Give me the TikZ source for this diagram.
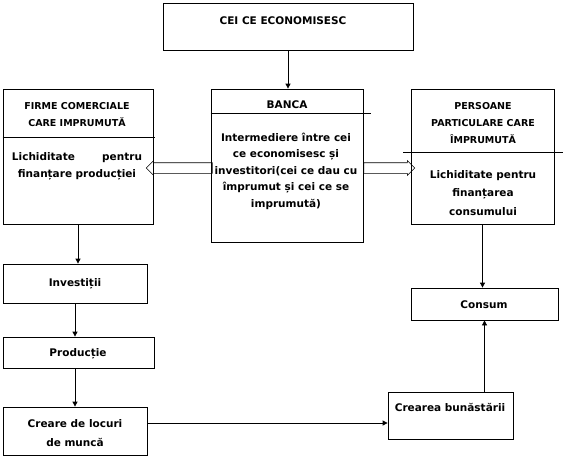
\documentclass[tikz,border=0pt]{standalone}
\usepackage{fontspec}
\setmainfont{DejaVu Sans}
\usetikzlibrary{arrows.meta,positioning,shapes.arrows}

\begin{document}
\begin{tikzpicture}[
    x=1pt, y=-1pt,
    box/.style={rectangle, draw, line width=0.8pt, inner sep=0pt},
    txt/.style={align=center, inner sep=0pt, font=\bfseries\fontsize{10.5}{16.5}\selectfont},
    arrow/.style={-{Triangle[length=5pt,width=5pt]}, line width=0.8pt},
    wide/.style={single arrow, draw, line width=0.6pt, inner xsep=0pt, inner ysep=5pt, minimum width=0pt, single arrow head extend=2pt}
]
\useasboundingbox (0,0) rectangle (564,459);

% boxes
\node[box, minimum width=250pt, minimum height=47pt] (econ) at (288,26.5) {};
\node[box, minimum width=152pt, minimum height=153pt] (banca) at (287,165.5) {};
\node[box, minimum width=150pt, minimum height=135pt] (firme) at (78,156.5) {};
\node[box, minimum width=143pt, minimum height=135pt] (pers) at (482.5,156.5) {};
\node[box, minimum width=144pt, minimum height=39pt] (invest) at (75,283.5) {};
\node[box, minimum width=151pt, minimum height=31pt] (prod) at (78.5,352.5) {};
\node[box, minimum width=144pt, minimum height=48pt] (creare) at (75,431) {};
\node[box, minimum width=125pt, minimum height=47pt] (bunast) at (450.5,415.5) {};
\node[box, minimum width=147pt, minimum height=32pt] (consum) at (484.5,304) {};

% dividers
\draw[line width=0.8pt] (banca.west |- 0,113) -- (371,113);
\draw[line width=0.8pt] (firme.west |- 0,137) -- (155,137);
\draw[line width=0.8pt] (403,152) -- (563,152);

% texts
\node[txt] (econtxt) at (283,21) {CEI CE ECONOMISESC};
\node[txt] (bancatxt) at (287,105) {BANCA};
\node[txt] (bancabody) at (286,171) {Intermediere între cei\\ce economisesc și\\investitori(cei ce dau cu\\împrumut și cei ce se\\imprumută)};
\node[txt, font=\bfseries\fontsize{9.5}{16.5}\selectfont] (firmetxt) at (77,114.5) {FIRME COMERCIALE\\CARE IMPRUMUTĂ};
\node[txt, text width=130pt] (firmebody) at (77,166.5) {Lichiditate\hfill pentru\\finanțare producției};
\node[txt, font=\bfseries\fontsize{9.5}{17}\selectfont] (perstxt) at (483,123) {PERSOANE\\PARTICULARE CARE\\ÎMPRUMUTĂ};
\node[txt, font=\bfseries\fontsize{10.5}{18.5}\selectfont] (persbody) at (483,193) {Lichiditate pentru\\finanțarea\\consumului};
\node[txt] (investtxt) at (75,283.5) {Investiții};
\node[txt] (prodtxt) at (78,353.5) {Producție};
\node[txt, font=\bfseries\fontsize{10.5}{19}\selectfont] (crearetxt) at (75,433.5) {Creare de locuri\\de muncă};
\node[txt] (bunasttxt) at (450,407) {Crearea bunăstării};
\node[txt] (consumtxt) at (484,304.5) {Consum};

% hollow arrows from the bank
\coordinate (row) at (0,168);
\node[wide, minimum height=66pt, shape border rotate=180, anchor=tail] (tofirme) at ([xshift=2pt]banca.west |- row) {};
\node[wide, minimum height=51pt, anchor=tail] (topers) at (banca.east |- row) {};

% connectors
\draw[arrow] (econ) -- (econ |- banca.north);
\draw[arrow] (firme.south) -- (firme.south |- invest.north);
\draw[arrow] (invest) -- (invest |- prod.north);
\draw[arrow] (prod.south -| invest) -- (creare);
\draw[arrow] ([yshift=8pt]creare.east) -- ([yshift=8pt]creare.east -| bunast.west);
\draw[arrow] (pers) -- (pers |- consum.north);
\draw[arrow] (bunast.north -| consum) -- (consum);
\end{tikzpicture}
\end{document}
